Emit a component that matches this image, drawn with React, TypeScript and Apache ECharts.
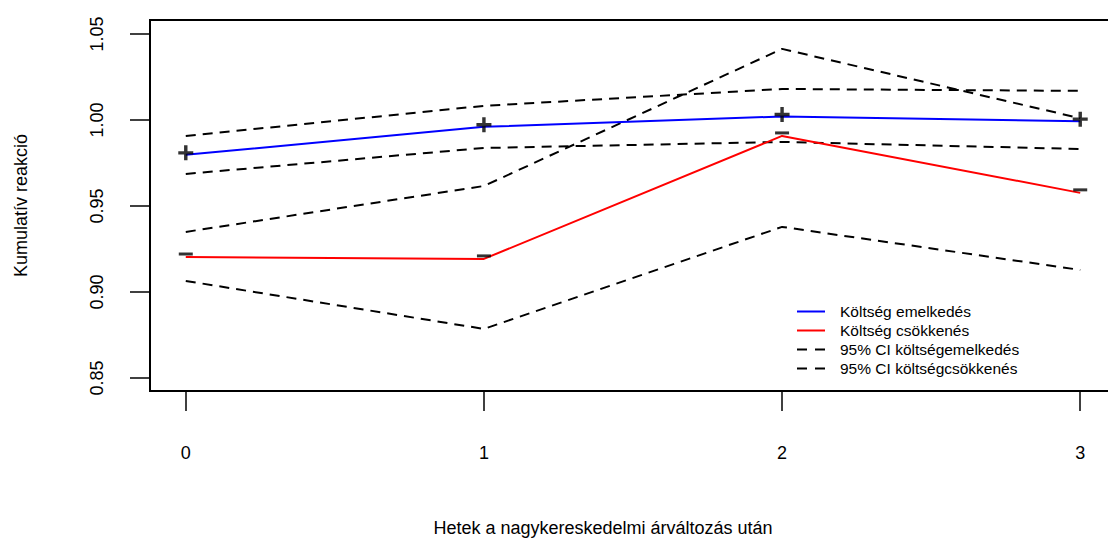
import React, { useEffect, useRef } from "react";
import * as echarts from "echarts";

const weeks = [0, 1, 2, 3];
const costIncrease = [0.9797, 0.996, 1.002, 0.9993];
const costDecrease = [0.9203, 0.9192, 0.9907, 0.9576];
const ciIncreaseUpper = [0.9907, 1.0082, 1.018, 1.0169];
const ciIncreaseLower = [0.9686, 0.9837, 0.9872, 0.9831];
const ciDecreaseUpper = [0.9349, 0.9616, 1.0413, 1.001];
const ciDecreaseLower = [0.9064, 0.8785, 0.9378, 0.9128];
const yTicks = [0.85, 0.9, 0.95, 1.0, 1.05];
const xTicks = [0, 1, 2, 3];

const nameInc = "Költség emelkedés";
const nameDec = "Költség csökkenés";
const nameCiInc = "95% CI költségemelkedés";
const nameCiDec = "95% CI költségcsökkenés";

const pair = (vals: number[]) => weeks.map((w, i) => [w, vals[i]]);

const FONT = "Liberation Sans, Arial, sans-serif";
const SOLID_ICON = "path://M0,0H28V2H0Z";
const DASH_ICON = "path://M0,0H10V2H0Z M18,0H28V2H18Z";

export default function App() {
  const ref = useRef<HTMLDivElement>(null);
  useEffect(() => {
    if (!ref.current) return;
    const chart = echarts.init(ref.current, null, { renderer: "svg" });
    const dashed = (name: string, vals: number[]) => ({
      name,
      type: "line",
      data: pair(vals),
      symbol: "none",
      lineStyle: { color: "#000", width: 2, type: [10, 7] },
      itemStyle: { color: "#000" },
      z: 2,
    });
    chart.setOption({
      animation: false,
      textStyle: { fontFamily: FONT },
      grid: {
        left: 150,
        top: 20,
        width: 966,
        height: 371,
        show: true,
        borderColor: "#000",
        borderWidth: 2,
        outerBoundsMode: "none",
        containLabel: false,
      },
      xAxis: {
        type: "value",
        min: -0.12,
        max: 3.12,
        axisLine: { show: false, onZero: false },
        splitLine: { show: false },
        axisTick: { show: true, customValues: xTicks, length: 20, lineStyle: { color: "#000", width: 1.5 } },
        axisLabel: { customValues: xTicks, fontSize: 18, color: "#000", margin: 53, fontFamily: FONT },
      },
      yAxis: {
        type: "value",
        min: 0.8424,
        max: 1.0581,
        axisLine: { show: false, onZero: false },
        splitLine: { show: false },
        axisTick: { show: true, customValues: yTicks, length: 20, lineStyle: { color: "#000", width: 1.5 } },
        axisLabel: {
          customValues: yTicks,
          fontSize: 18,
          color: "#000",
          rotate: 90,
          margin: 44,
          fontFamily: FONT,
          formatter: (v: number) => v.toFixed(2),
        },
        name: "Kumulatív reakció",
        nameLocation: "middle",
        nameRotate: 90,
        nameGap: 120,
        nameTextStyle: { fontSize: 18, color: "#000", fontFamily: FONT },
      },
      legend: {
        orient: "vertical",
        left: 797,
        top: 302,
        padding: 0,
        itemWidth: 28,
        itemHeight: 2,
        itemGap: 0,
        data: [
          { name: nameInc, icon: SOLID_ICON },
          { name: nameDec, icon: SOLID_ICON },
          { name: nameCiInc, icon: DASH_ICON },
          { name: nameCiDec, icon: DASH_ICON },
        ],
        textStyle: { fontSize: 15.5, color: "#000", lineHeight: 19, padding: [0, 0, 0, 10], fontFamily: FONT },
      },
      graphic: [
        {
          type: "text",
          x: 603,
          y: 528,
          style: {
            text: "Hetek a nagykereskedelmi árváltozás után",
            fontSize: 18,
            fontFamily: FONT,
            fill: "#000",
            align: "center",
            verticalAlign: "middle",
          },
        },
      ],
      series: [
        {
          name: nameInc,
          type: "line",
          data: pair(costIncrease),
          symbol: "none",
          lineStyle: { color: "#0000ff", width: 2 },
          itemStyle: { color: "#0000ff" },
          z: 3,
        },
        {
          name: nameDec,
          type: "line",
          data: pair(costDecrease),
          symbol: "none",
          lineStyle: { color: "#ff0000", width: 2 },
          itemStyle: { color: "#ff0000" },
          z: 3,
        },
        dashed(nameCiInc, ciIncreaseUpper),
        dashed(nameCiInc, ciIncreaseLower),
        dashed(nameCiDec, ciDecreaseUpper),
        dashed(nameCiDec, ciDecreaseLower),
        {
          name: "plusMarks",
          type: "scatter",
          data: pair(costIncrease),
          symbol: "path://M0,5.4H14V8.6H0Z M5.4,0H8.6V14H5.4Z",
          symbolSize: 15,
          symbolOffset: [0, -2],
          itemStyle: { color: "#000" },
          z: 4,
        },
        {
          name: "minusMarks",
          type: "scatter",
          data: pair(costDecrease),
          symbol: "path://M0,0H14V3H0Z",
          symbolSize: [14, 3],
          symbolOffset: [0, -3],
          itemStyle: { color: "#000" },
          z: 4,
        },
      ],
    });
    return () => chart.dispose();
  }, []);
  return (
    <div style={{ position: "fixed", left: 0, top: 0, width: 1108, height: 540, overflow: "hidden", background: "#fff" }}>
      <div ref={ref} style={{ width: 1130, height: 540 }} />
    </div>
  );
}
